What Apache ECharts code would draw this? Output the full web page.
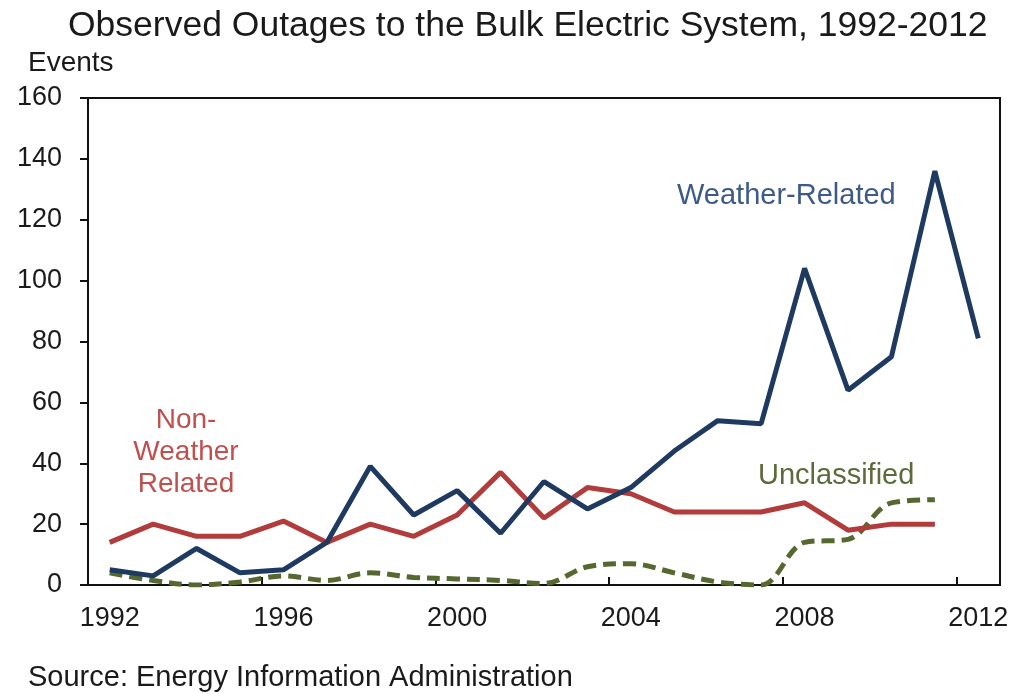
<!DOCTYPE html>
<html>
<head>
<meta charset="utf-8">
<script src="https://cdn.jsdelivr.net/npm/echarts@6/dist/echarts.min.js"></script>
<style>html,body{margin:0;padding:0;background:#fff}#c{width:1026px;height:694px}</style>
</head>
<body>
<div id="c"></div>
<script>
const years = [1992,1993,1994,1995,1996,1997,1998,1999,2000,2001,2002,2003,2004,2005,2006,2007,2008,2009,2010,2011,2012];
const weatherRelated = [5,3,12,4,5,14,39,23,31,17,34,25,32,44,54,53,104,64,75,136,81];
const nonWeatherRelated = [14,20,16,16,21,14,20,16,23,37,22,32,30,24,24,24,27,18,20,20,null];
const unclassified = [4,1.5,0,1,3,1.5,4,2.5,2,1.5,0.5,6,7,4,1,0,14,15,27,28,null];
const xTickLabels = [1992,1996,2000,2004,2008,2012];
const xTickMarks = [1995.5,1999.5,2003.5,2007.5,2011.5];

const pairs = arr => years.map((y,i)=>[y,arr[i]]).filter(p=>p[1]!==null);
const FONT = 'Liberation Sans, Arial, sans-serif';

const chart = echarts.init(document.getElementById('c'), null, {renderer:'canvas'});
chart.setOption({
  backgroundColor:'#fff',
  animation:false,
  title:{text:'Observed Outages to the Bulk Electric System, 1992-2012', left:63, top:3,
    textStyle:{fontFamily:FONT,fontSize:35.5,fontWeight:'normal',color:'#1a1a1a'}},
  grid:{left:88,right:26,top:98,bottom:109,show:true,borderColor:'#111',borderWidth:2,backgroundColor:'transparent'},
  xAxis:{type:'value',min:1991.5,max:2012.5,
    axisLine:{show:true,lineStyle:{color:'#111',width:2}},
    axisTick:{show:true,inside:true,length:8,lineStyle:{color:'#111',width:2},customValues:xTickMarks},
    axisLabel:{customValues:xTickLabels,margin:20,fontFamily:FONT,fontSize:27,color:'#1a1a1a',formatter:v=>String(v)},
    splitLine:{show:false}},
  yAxis:{type:'value',min:0,max:160,interval:20,
    axisLine:{show:true,lineStyle:{color:'#111',width:2}},
    axisTick:{show:true,inside:false,length:8,lineStyle:{color:'#111',width:2}},
    axisLabel:{margin:26,fontFamily:FONT,fontSize:27,color:'#1a1a1a'},
    splitLine:{show:false}},
  series:[
    {name:'Non-Weather Related',type:'line',data:pairs(nonWeatherRelated),symbol:'none',
      lineStyle:{color:'#b23b3c',width:5},z:2},
    {name:'Unclassified',type:'line',data:pairs(unclassified),symbol:'none',smooth:0.35,
      lineStyle:{color:'#56682f',width:5,type:[13,7]},z:1},
    {name:'Weather-Related',type:'line',data:pairs(weatherRelated),symbol:'none',
      lineStyle:{color:'#1f3a60',width:5},z:3}
  ],
  graphic:[
    {type:'text',x:28,y:63,style:{text:'Events',font:'28px '+FONT,fill:'#1a1a1a',verticalAlign:'middle'}},
    {type:'text',x:677,y:196,style:{text:'Weather-Related',font:'29px '+FONT,fill:'#3d5a89',verticalAlign:'middle'}},
    {type:'text',x:186,y:452,style:{text:'Non-\nWeather\nRelated',font:'28px '+FONT,fill:'#c0504d',align:'center',verticalAlign:'middle',lineHeight:32}},
    {type:'text',x:758,y:476,style:{text:'Unclassified',font:'29px '+FONT,fill:'#5d6b3a',verticalAlign:'middle'}},
    {type:'text',x:28,y:678,style:{text:'Source: Energy Information Administration',font:'29px '+FONT,fill:'#1a1a1a',verticalAlign:'middle'}}
  ]
});
</script>
</body>
</html>
